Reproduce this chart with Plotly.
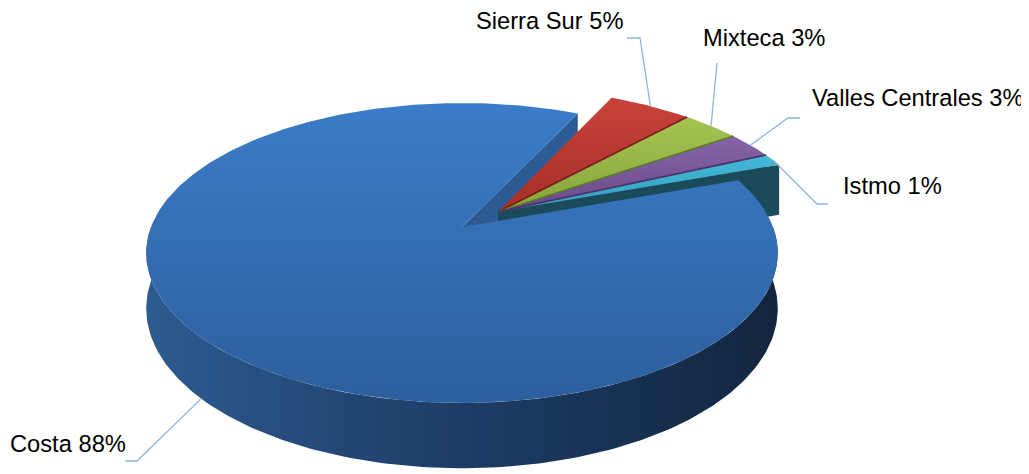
import numpy as np
import plotly.graph_objects as go

# ---------------- data ----------------
regions = ["Sierra Sur", "Mixteca", "Valles Centrales", "Istmo", "Costa"]
values = [4.9, 3.4, 2.8, 1.3, 87.6]

# ---------------- style ----------------
top_colors = [["#c8423a", "#a62f29"], ["#a3c351", "#86a63c"], ["#8564a8", "#6b4a8a"],
              ["#44b8d8", "#33a0c0"], ["#3b7cc8", "#2d5f9d"]]
side_colors = ["#7b1f1a", "#5d7a27", "#4a3266", "#1b4b5a", "#2d5c95"]
wall_scale = [[0, "#2d5b90"], [0.5, "#1d3c66"], [1, "#13263f"]]
explode = [0, 0, 0, 0, 0.16]
radii = [1.045, 1.045, 1.045, 1.045, 1.0]
THETA0 = 25.5          # start angle (deg, clockwise from far side)
CX, CY, A, B, K, H = 462, 227, 311, 106.1, 0.1733, 54   # projection / depth
LEADER = "#8db4e2"
FONT = dict(family="Liberation Sans, Arial, sans-serif", size=23.7, color="#000000")
label_pos = [(473.5, 20.5), (700.5, 38), (809.5, 98), (840.5, 186), (8.5, 444)]
label_shift = [0, 0, 0, 0, -1]
label_elbows = [[(627, 38), (640, 38)], [(717, 63), (717, 63)], [(800, 118), (788, 118)],
                [(828, 204), (817, 204)], [(125, 461), (137, 461)]]
PAGE_OFF = 8   # page body margin compensation
W, HGT = 1029, 474

# ---------------- geometry ----------------
total = sum(values)
spans = [v / total * 360 for v in values]
starts = list(THETA0 + np.concatenate([[0], np.cumsum(spans)[:-1]]))
ends = [s + w for s, w in zip(starts, spans)]
mids = [(s + e) / 2 for s, e in zip(starts, ends)]


def unit(deg):
    r = np.radians(deg)
    return np.sin(r), np.cos(r)


centers = [(e * unit(m)[0], e * unit(m)[1]) for e, m in zip(explode, mids)]
ref = centers[-1]


def P(u, v, h=0.0):
    u = u - ref[0]
    v = v - ref[1]
    d = 1 + K * v
    return CX + A * u / d, (CY - B * v) / d + H * h / d


def arc(i, t1, t2, h):
    n = max(4, int(abs(t2 - t1) / 1.0) + 2)
    cu, cv = centers[i]
    pts = []
    for t in np.linspace(t1, t2, n):
        su, sv = unit(t)
        pts.append(P(cu + radii[i] * su, cv + radii[i] * sv, h))
    return pts


def edge(i, t, h):
    cu, cv = centers[i]
    su, sv = unit(t)
    return P(cu + radii[i] * su, cv + radii[i] * sv, h)


fig = go.Figure()


def poly(pts, color=None, grad=None):
    xs = [p[0] for p in pts] + [pts[0][0]]
    ys = [p[1] for p in pts] + [pts[0][1]]
    kw = dict(x=xs, y=ys, mode="lines", fill="toself", line=dict(width=0),
              hoverinfo="skip", showlegend=False)
    if grad is not None:
        kw["fillgradient"] = grad
        kw["fillcolor"] = grad["colorscale"][0][1]
    else:
        kw["fillcolor"] = color
    fig.add_trace(go.Scatter(**kw))


def radial_face(i, t):
    cu, cv = centers[i]
    return [P(cu, cv, 0), edge(i, t, 0), edge(i, t, 1), P(cu, cv, 1)]


n = len(values)
big = n - 1
# Costa radial face (visible end face)
for i in [big]:
    for t, nrm in [(starts[i], starts[i] - 90), (ends[i], ends[i] + 90)]:
        if np.cos(np.radians(nrm)) < 0:
            poly(radial_face(i, t), side_colors[i])
# small slice visible radial faces
for i in range(n - 1):
    for t, nrm in [(starts[i], starts[i] - 90), (ends[i], ends[i] + 90)]:
        if np.cos(np.radians(nrm)) < 0:
            poly(radial_face(i, t), side_colors[i])
# outer walls (front part)
for i in range(n):
    for off in (0, 360):
        lo = max(starts[i], 90 + off)
        hi = min(ends[i], 270 + off)
        if hi > lo:
            pts = arc(i, lo, hi, 0) + arc(i, hi, lo, 1)
            xs = [p[0] for p in pts]
            if i == big:
                poly(pts, grad=dict(type="horizontal", colorscale=wall_scale,
                                    start=min(xs), stop=max(xs)))
            else:
                poly(pts, side_colors[i])
# top faces
for i in list(range(n - 1)) + [big]:
    cu, cv = centers[i]
    pts = [P(cu, cv, 0)] + arc(i, starts[i], ends[i], 0)
    ys = [p[1] for p in pts]
    poly(pts, grad=dict(type="vertical",
                        colorscale=[[0, top_colors[i][0]], [1, top_colors[i][1]]],
                        start=min(ys), stop=max(ys)))
# thin separators between adjacent small slices
for i in range(n - 2):
    cu, cv = centers[i]
    a0 = P(cu, cv, 0)
    a1 = edge(i, ends[i], 0)
    fig.add_trace(go.Scatter(x=[a0[0], a1[0]], y=[a0[1], a1[1]], mode="lines",
                             line=dict(color=side_colors[i], width=1.6),
                             hoverinfo="skip", showlegend=False))

# ---------------- labels and leader lines ----------------
annotations = []
for i in range(n):
    pct = values[i] / total * 100
    text = f"{regions[i]} {round(pct)}%"
    cu, cv = centers[i]
    su, sv = unit(mids[i])
    if i == big:
        anchor = P(cu + radii[i] * su, cv + radii[i] * sv, 1)
    else:
        anchor = P(cu + radii[i] * su, cv + radii[i] * sv, 0)
    pts = label_elbows[i] + [anchor]
    fig.add_trace(go.Scatter(x=[p[0] for p in pts], y=[p[1] for p in pts], mode="lines",
                             line=dict(color=LEADER, width=1.3),
                             hoverinfo="skip", showlegend=False))
    annotations.append(dict(x=label_pos[i][0], y=label_pos[i][1], text=text,
                            xanchor="left", yanchor="middle", showarrow=False,
                            xshift=label_shift[i],
                            font=FONT, xref="x", yref="y"))

fig.update_layout(width=W - PAGE_OFF, height=HGT - PAGE_OFF,
                  margin=dict(l=0, r=0, t=0, b=0),
                  paper_bgcolor="white", plot_bgcolor="white",
                  xaxis=dict(range=[PAGE_OFF, W], visible=False, fixedrange=True),
                  yaxis=dict(range=[HGT, PAGE_OFF], visible=False, fixedrange=True),
                  annotations=annotations, showlegend=False)
fig.write_html("out.html")
